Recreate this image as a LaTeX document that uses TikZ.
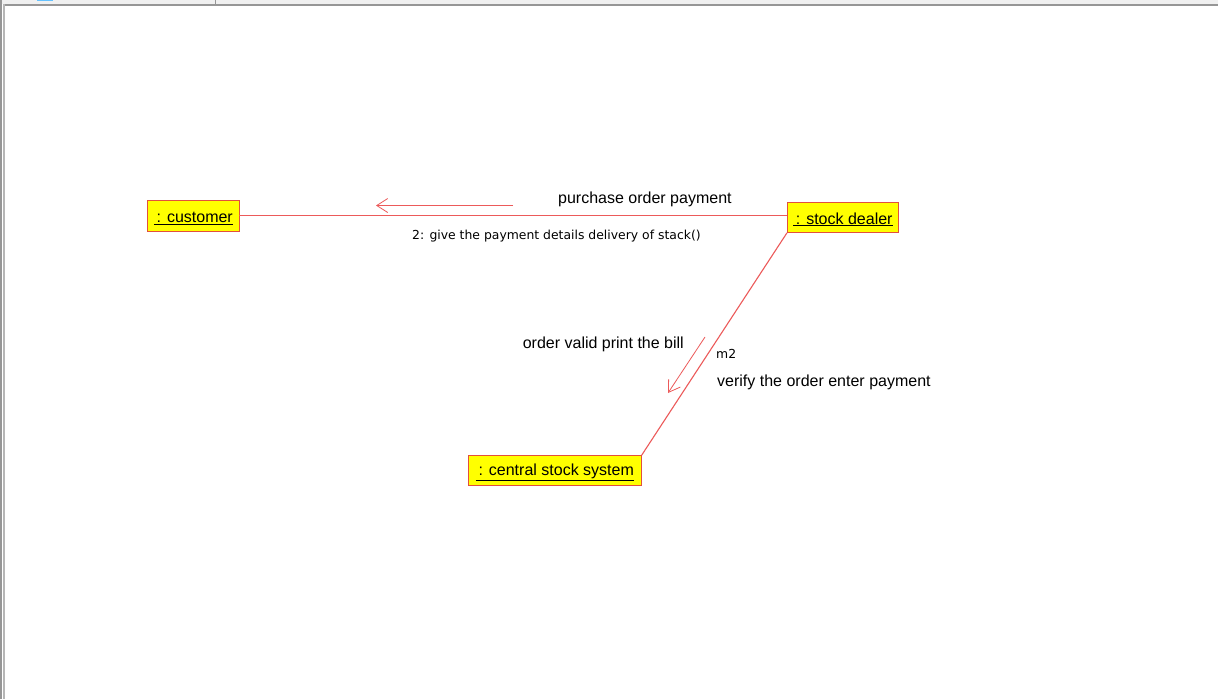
\documentclass[tikz,border=0pt]{standalone}
\usepackage{fontspec}
\setmainfont{Liberation Sans}
\newfontfamily\msgfont{DejaVu Sans}
\usetikzlibrary{arrows.meta}
\definecolor{linkred}{RGB}{236,90,90}
\definecolor{boxred}{RGB}{226,80,60}
\definecolor{objyellow}{RGB}{255,255,0}
\definecolor{framegray}{RGB}{150,150,150}
\definecolor{stripgray}{RGB}{240,240,240}
\begin{document}
\begin{tikzpicture}[x=1pt,y=-1pt,
  objbox/.style={draw=boxred, fill=objyellow, line width=0.8pt, inner sep=0pt, anchor=north west},
  link/.style={draw=linkred, line width=1.1pt},
  msgarrow/.style={draw=linkred, line width=0.8pt, -{Straight Barb[length=11pt,width=14pt,line width=0.8pt]}},
  lbl/.style={font=\fontsize{16}{18}\selectfont, inner sep=0pt},
  smalllbl/.style={font=\msgfont\fontsize{12.4}{14}\selectfont, inner sep=0pt}
]
\useasboundingbox (0,0) rectangle (1218,699);
% window frame
\fill[white] (0,0) rectangle (1218,699);
\fill[stripgray] (0,0) rectangle (1218,4);
\fill[framegray] (5,4) rectangle (1218,6);
\fill[framegray] (0,0) rectangle (1.5,699);
\fill[framegray!70] (3,4) rectangle (5,699);
\draw[framegray, line width=1pt] (215,0) -- (215,4);
\fill[blue!40!cyan!60] (37,0) rectangle (53,1.2);

% objects
\node[objbox, minimum width=92pt, minimum height=31pt] (cust) at (147,200) {};
\node[lbl] at ([yshift=-2.5pt]cust.center) {\underline{\,: customer}};
\node[objbox, minimum width=111pt, minimum height=30pt] (dealer) at (787,202) {};
\node[lbl] at ([yshift=-2pt]dealer.center) {\underline{\,: stock dealer}};
\node[objbox, minimum width=173pt, minimum height=30pt] (central) at (468,455) {};
\node[lbl] at ([yshift=-2pt]central.center) {\underline{\,: central stock system}};

% links
\coordinate (la) at (239.4,215.5);
\coordinate (lb) at (786.6,215.5);
\draw[link] (la) -- (lb);
\draw[link] (dealer.south west) -- (central.north east);

% messages
\coordinate (m1s) at (513,205.5);
\coordinate (m1e) at (376,205.5);
\draw[msgarrow] (m1s) -- (m1e);
\coordinate (m2s) at (705,337);
\coordinate (m2e) at (668,393);
\draw[msgarrow] (m2s) -- (m2e);

% labels
\node[lbl, anchor=west] (t1) at (558,199) {purchase order payment};
\node[smalllbl, anchor=west] (t2) at (412,236) {2: give the payment details delivery of stack()};
\node[lbl, anchor=east] (t3) at (684,344) {order valid print the bill};
\node[smalllbl, anchor=west] (t4) at (716,354) {m2};
\node[lbl, anchor=west] (t5) at (717,382) {verify the order enter payment};
\end{tikzpicture}
\end{document}
